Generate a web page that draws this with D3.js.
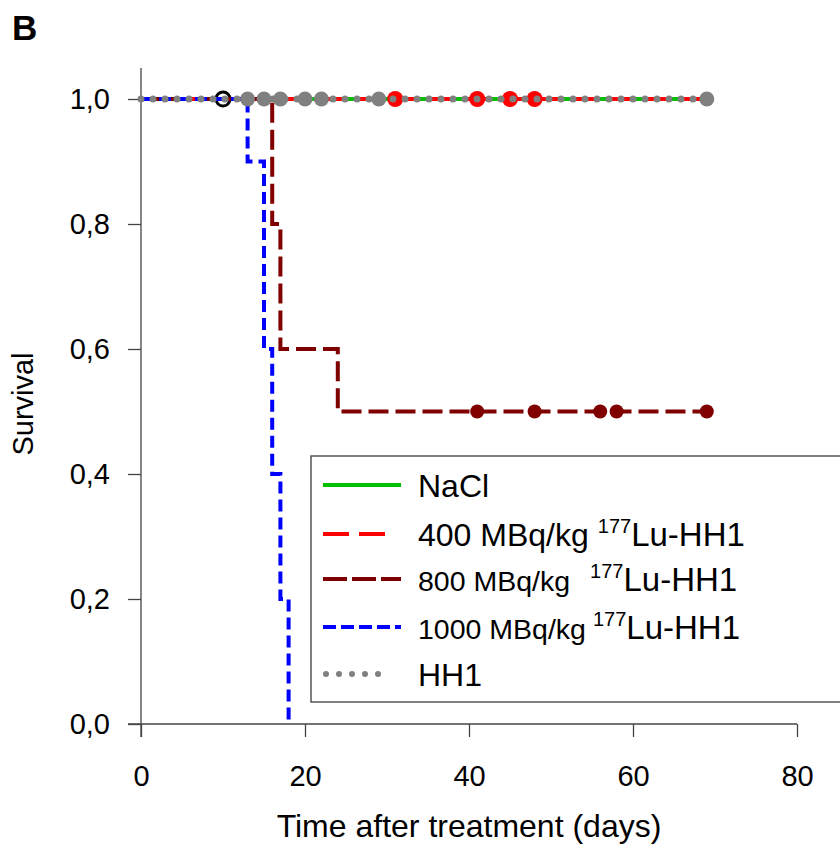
<!DOCTYPE html>
<html>
<head>
<meta charset="utf-8">
<script src="https://cdn.jsdelivr.net/npm/d3@7"></script>
<style>
  body { margin: 0; background: #fff; }
  svg text { font-family: "Liberation Sans", Arial, sans-serif; }
</style>
</head>
<body>
<svg id="chart" width="840" height="845"></svg>
<script>
// survival steps: [day, survival]
const naclSteps = [[0, 1], [69, 1]];
const lu400Steps = [[0, 1], [69, 1]];
const lu800Steps = [[0, 1], [16, 0.8], [17, 0.6], [24, 0.5], [69, 0.5]];
const lu1000Steps = [[0, 1], [13, 0.9], [15, 0.6], [16, 0.4], [17, 0.2], [18, 0]];
const hh1Steps = [[0, 1], [69, 1]];

// censored observations: [day, survival]
const naclCensored = [[10, 1]];
const lu400Censored = [[31, 1], [41, 1], [45, 1], [48, 1]];
const lu800Censored = [[41, 0.5], [48, 0.5], [56, 0.5], [58, 0.5], [69, 0.5]];
const hh1Censored = [[13, 1], [15, 1], [17, 1], [20, 1], [22, 1], [29, 1], [69, 1]];

const xTicks = [0, 20, 40, 60, 80];
const yTicks = [0, 0.2, 0.4, 0.6, 0.8, 1.0];

const groups = [
  {name: 'NaCl', steps: naclSteps, censored: naclCensored, color: '#00c000', dash: null, width: 4,
    mark: {fill: 'none', stroke: '#000', r: 7}},
  {name: '400', steps: lu400Steps, censored: lu400Censored, color: '#ff0000', dash: '26,10', width: 4,
    mark: {fill: '#ff0000', stroke: 'none', r: 8}},
  {name: '800', steps: lu800Steps, censored: lu800Censored, color: '#800000', dash: '20,7', width: 4,
    mark: {fill: '#800000', stroke: 'none', r: 7}},
  {name: '1000', steps: lu1000Steps, censored: [], color: '#0000ff', dash: '12,6', width: 4,
    mark: null},
  {name: 'HH1', steps: hh1Steps, censored: hh1Censored, color: '#808080', dash: '0,12', width: 7, round: true,
    mark: {fill: '#808080', stroke: 'none', r: 7.5}}
];

const svg = d3.select('#chart');

const x = d3.scaleLinear().domain([0, 80]).range([141, 797]);
const y = d3.scaleLinear().domain([0, 1]).range([724, 99]);

const axisColor = '#444';

// axes
const xAxis = svg.append('g').attr('transform', `translate(0,${y(0)})`)
  .call(d3.axisBottom(x).tickValues(xTicks).tickSize(13).tickPadding(28).tickFormat(d3.format('d')));
const yAxis = svg.append('g').attr('transform', `translate(${x(0)},0)`)
  .call(d3.axisLeft(y).tickValues(yTicks).tickSize(13).tickPadding(18)
    .tickFormat(d => d3.format('.1f')(d).replace('.', ',')));

[xAxis, yAxis].forEach(a => {
  a.select('.domain').remove();
  a.selectAll('.tick line').attr('stroke', axisColor).attr('stroke-width', 1.3);
  a.selectAll('.tick text').attr('fill', '#000').style('font-size', '29px');
});
xAxis.selectAll('.tick text').attr('dy', '0.71em');

svg.append('line').attr('x1', x(0)).attr('x2', x(0)).attr('y1', 68).attr('y2', y(0) + 13)
  .attr('stroke', axisColor).attr('stroke-width', 1.3);
svg.append('line').attr('x1', x(0) - 13).attr('x2', x(80)).attr('y1', y(0)).attr('y2', y(0))
  .attr('stroke', axisColor).attr('stroke-width', 1.3);

// curves
const line = d3.line().x(d => x(d[0])).y(d => y(d[1])).curve(d3.curveStepAfter);

const plot = svg.append('g');
groups.forEach(g => {
  plot.append('path')
    .datum(g.steps)
    .attr('d', line)
    .attr('fill', 'none')
    .attr('stroke', g.color)
    .attr('stroke-width', g.width)
    .attr('stroke-dasharray', g.dash)
    .attr('stroke-linecap', g.round ? 'round' : 'butt');
  if (g.mark) {
    plot.selectAll(null)
      .data(g.censored)
      .enter()
      .append('circle')
      .attr('cx', d => x(d[0]))
      .attr('cy', d => y(d[1]))
      .attr('r', g.mark.r)
      .attr('fill', g.mark.fill)
      .attr('stroke', g.mark.stroke)
      .attr('stroke-width', 3);
  }
});

// axis titles
svg.append('text')
  .attr('x', 469).attr('y', 837)
  .attr('text-anchor', 'middle')
  .style('font-size', '32px')
  .text('Time after treatment (days)');

svg.append('text')
  .attr('transform', 'translate(33,404) rotate(-90)')
  .attr('text-anchor', 'middle')
  .style('font-size', '29px')
  .text('Survival');

svg.append('text')
  .attr('x', 12).attr('y', 40)
  .style('font-size', '35px')
  .style('font-weight', 'bold')
  .text('B');

// legend
const legend = svg.append('g');
legend.append('rect')
  .attr('x', 311).attr('y', 456)
  .attr('width', 560).attr('height', 246)
  .attr('fill', '#fff')
  .attr('stroke', '#555')
  .attr('stroke-width', 1.5);

const legendRows = [
  {g: groups[0], y: 485, label: 'NaCl', size: 32, gap: 0, end: 401},
  {g: groups[1], y: 534, label: '400 MBq/kg', size: 32, gap: 9, end: 389},
  {g: groups[2], y: 579, label: '800 MBq/kg', size: 28.5, gap: 20, end: 401},
  {g: groups[3], y: 627, label: '1000 MBq/kg', size: 28.5, gap: 7, end: 401},
  {g: groups[4], y: 674, label: 'HH1', size: 32, gap: 0, end: 391}
];

legendRows.forEach((row, i) => {
  const g = row.g;
  legend.append('line')
    .attr('x1', g.round ? 326 : 323).attr('x2', row.end)
    .attr('y1', row.y).attr('y2', row.y)
    .attr('stroke', g.color)
    .attr('stroke-width', g.round ? 6 : 4)
    .attr('stroke-dasharray', g.round ? '0,13' : (i === 2 ? '24,5' : (i === 3 ? '13,5' : g.dash)))
    .attr('stroke-linecap', g.round ? 'round' : 'butt');
  const t = legend.append('text').attr('x', 418).attr('y', row.y + 12);
  t.append('tspan').style('font-size', row.size + 'px').text(row.label);
  if (row.gap) {
    t.append('tspan').attr('dx', row.gap).attr('dy', -13).style('font-size', '20px').text('177');
    t.append('tspan').attr('dy', 13).style('font-size', '33px').text('Lu-HH1');
  }
});
</script>
</body>
</html>
